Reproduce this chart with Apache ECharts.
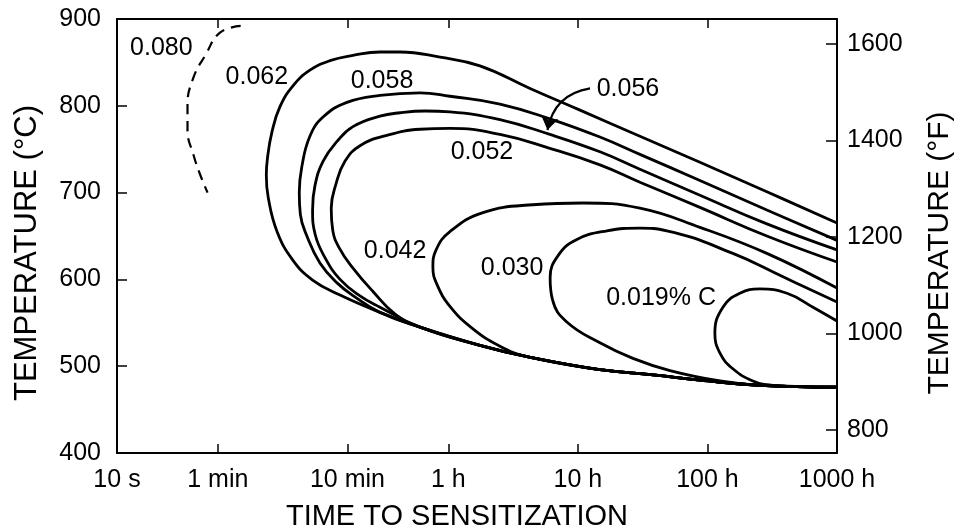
<!DOCTYPE html>
<html>
<head>
<meta charset="utf-8">
<script src="https://cdn.jsdelivr.net/npm/echarts@6/dist/echarts.min.js"></script>
<style>
  html, body { margin: 0; padding: 0; background: #fff; }
  #chart { width: 960px; height: 531px; }
</style>
</head>
<body>
<div id="chart"></div>
<script>
// time in seconds, temperature in degC
const timeTicks = [10, 60, 600, 3600, 36000, 360000, 3600000];
const timeTickNames = ['10 s', '1 min', '10 min', '1 h', '10 h', '100 h', '1000 h'];
const fTicks = [800, 1000, 1200, 1400, 1600];

const c080 = [[90,892],[62,884],[48,858],[39,833],[35,801],[35,772],[39,743],[44,720],[50,700]];
const c062 = [[3.6e6,665],[1.035e6,701],[3.15e5,735],[1.085e5,765],[3.74e4,795],[1.54e4,820],[6320,846],[3110,856],[1530,862],[1070,862],[662,858],[440,852],[308,841],[228,823],[181,799],[157,770],[145,740],[142,720],[147,694],[172,655],[228,622],[325,599],[526,582],[1070,562],[2180,545],[6320,524],[1.46e4,511],[5.33e4,496],[1.37e5,490],[3.15e5,484],[9.15e5,478],[3.6e6,476]];
const c058 = [[3.6e6,645],[1.035e6,680],[3.15e5,714],[1.085e5,744],[5.33e4,764],[2.19e4,785],[9020,802],[3710,811],[2180,815],[1070,812],[595,804],[389,787],[308,765],[267,730],[255,700],[260,675],[292,650],[368,619],[499,596],[698,579],[1070,562],[2180,545],[6320,524],[1.46e4,511],[5.33e4,496],[1.37e5,490],[3.15e5,484],[9.15e5,478],[3.6e6,476]];
const c056 = [[3.6e6,634],[1.035e6,664],[3.15e5,697],[1.085e5,727],[5.33e4,747],[2.19e4,767],[9020,784],[3710,793],[2380,794],[1530,792],[1070,788],[662,776],[499,759],[389,736],[337,708],[323,680],[338,652],[403,625],[526,600],[750,581],[1070,568],[2180,545],[6320,524],[1.46e4,511],[5.33e4,496],[1.37e5,490],[3.15e5,484],[9.15e5,478],[3.6e6,476]];
const c052 = [[3.6e6,620],[1.035e6,650],[3.15e5,683],[1.085e5,712],[5.33e4,732],[2.19e4,751],[9020,767],[3710,774],[2180,773],[1210,766],[750,754],[574,736],[490,710],[450,682],[462,657],[520,636],[662,613],[945,586],[1400,560],[2180,545],[6320,524],[1.46e4,511],[5.33e4,496],[1.37e5,490],[3.15e5,484],[9.15e5,478],[3.6e6,476]];
const c042 = [[3.6e6,590],[1.035e6,630],[3.15e5,660],[1.085e5,682],[3.94e4,688],[1.62e4,686],[6670,677],[3710,655],[2900,634],[2740,614],[2950,594],[3750,568],[5580,543],[9020,523],[1.46e4,511],[5.33e4,496],[1.37e5,490],[3.15e5,484],[9.15e5,478],[3.6e6,476]];
const c030 = [[3.6e6,574],[1.38e6,603],[5.66e5,630],[1.75e5,656],[1.085e5,659],[6.04e4,656],[3.54e4,646],[2.55e4,628],[2.2e4,602],[2.3e4,576],[2.96e4,551],[5.33e4,527],[9.58e4,509],[1.85e5,495],[4.5e5,483],[9.15e5,478],[3.6e6,476]];
const c019 = [[3.6e6,552],[2.35e6,568],[1.48e6,584],[9.15e5,589],[6.41e5,584],[4.74e5,568],[4.11e5,538],[4.5e5,515],[5.66e5,497],[8.07e5,483],[1.15e6,478],[3.6e6,476]];

// curve labels: [time, temp, text]
const curveLabels = [
  [22, 867, '0.080'],
  [120, 833, '0.062'],
  [1110, 829, '0.058'],
  [8.77e4, 819, '0.056'],
  [6550, 747, '0.052'],
  [1400, 633, '0.042'],
  [1.12e4, 613, '0.030'],
  [1.58e5, 579, '0.019% C']
];
const arrow056 = [[4.47e4, 820], [2.1e4, 772]];

const font = 'Liberation Sans, Arial, sans-serif';

let myChart = echarts.init(document.getElementById('chart'));

function curve(data, dashed) {
  return {
    type: 'line',
    data: data,
    smooth: 0.45,
    showSymbol: false,
    silent: true,
    lineStyle: {
      color: '#000',
      width: dashed ? 2.2 : 2.8,
      type: dashed ? [10, 7] : 'solid'
    }
  };
}

function timeAxis(pos) {
  return {
    type: 'log',
    position: pos,
    min: 10,
    max: 3600000,
    axisLine: { show: true, lineStyle: { color: '#000', width: 2 } },
    axisTick: { show: true, inside: true, length: 9, customValues: timeTicks.slice(1, 6), lineStyle: { color: '#000', width: 1.5 } },
    axisLabel: {
      show: pos === 'bottom',
      customValues: timeTicks,
      margin: 15,
      color: '#000',
      fontFamily: font,
      fontSize: 25,
      formatter: function (v) {
        let i = timeTicks.findIndex(t => Math.abs(Math.log10(t) - Math.log10(v)) < 0.01);
        return i >= 0 ? timeTickNames[i] : '';
      }
    },
    splitLine: { show: false },
    minorTick: { show: false }
  };
}

let xBottom = timeAxis('bottom');
xBottom.name = 'TIME TO SENSITIZATION';
xBottom.nameLocation = 'middle';
xBottom.nameGap = 49;
xBottom.nameTextStyle = { color: '#000', fontFamily: font, fontSize: 29, padding: [0, 40, 0, 0] };
let xTop = timeAxis('top');

myChart.setOption({
  animation: false,
  backgroundColor: '#fff',
  grid: { left: 117, right: 123, top: 19, bottom: 78, outerBoundsMode: 'none', containLabel: false },
  xAxis: [xBottom, xTop],
  yAxis: [
    {
      type: 'value',
      position: 'left',
      min: 400,
      max: 900,
      interval: 100,
      name: 'TEMPERATURE (°C)',
      nameLocation: 'middle',
      nameRotate: 90,
      nameGap: 74,
      nameTextStyle: { color: '#000', fontFamily: font, fontSize: 31, padding: [0, 34, 0, 0] },
      axisLine: { show: true, lineStyle: { color: '#000', width: 2 } },
      axisTick: { show: true, inside: true, length: 10, lineStyle: { color: '#000', width: 1.5 } },
      axisLabel: { margin: 16, color: '#000', fontFamily: font, fontSize: 25 },
      splitLine: { show: false }
    },
    {
      type: 'value',
      position: 'right',
      min: 752,
      max: 1652,
      name: 'TEMPERATURE (°F)',
      nameLocation: 'middle',
      nameRotate: 90,
      nameGap: 88,
      nameTextStyle: { color: '#000', fontFamily: font, fontSize: 30, padding: [0, 34, 0, 0] },
      axisLine: { show: true, lineStyle: { color: '#000', width: 2 } },
      axisTick: { show: true, inside: true, length: 11, customValues: fTicks, lineStyle: { color: '#000', width: 1.5 } },
      axisLabel: { margin: 10, customValues: fTicks, color: '#000', fontFamily: font, fontSize: 25, formatter: v => String(v) },
      splitLine: { show: false }
    }
  ],
  series: [
    curve(c080, true),
    curve(c062),
    curve(c058),
    curve(c056),
    curve(c052),
    curve(c042),
    curve(c030),
    curve(c019),
    {
      type: 'scatter',
      data: curveLabels.map(d => ({ value: [d[0], d[1]], name: d[2] })),
      symbolSize: 1,
      itemStyle: { color: 'rgba(0,0,0,0)', opacity: 1 },
      silent: true,
      label: {
        show: true,
        position: 'inside',
        formatter: p => p.name,
        color: '#000',
        opacity: 1,
        fontFamily: font,
        fontSize: 25
      }
    },
    {
      type: 'lines',
      coordinateSystem: 'cartesian2d',
      silent: true,
      symbol: ['none', 'arrow'],
      symbolSize: 13,
      lineStyle: { color: '#000', width: 2.2, opacity: 1, curveness: -0.35 },
      data: [{ coords: arrow056 }]
    }
  ]
});
</script>
</body>
</html>
